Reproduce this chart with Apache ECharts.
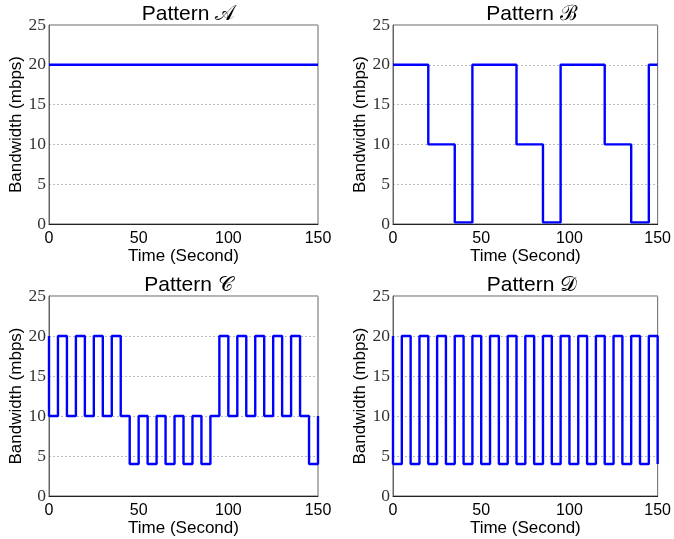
<!DOCTYPE html>
<html>
<head>
<meta charset="utf-8">
<script src="https://cdn.jsdelivr.net/npm/echarts@6/dist/echarts.min.js"></script>
<style>
  html, body { margin: 0; padding: 0; background: #fff; }
  #chart { width: 674px; height: 539px; }
</style>
</head>
<body>
<div id="chart"></div>
<script>
// Bandwidth traces (mbps) for four link patterns, given as change points:
// each value holds from its time until the next time (step "end").
const timeA = [0, 150];
const bwA   = [20, 20];

const timeB = [0, 20, 35, 45, 70, 85, 95, 120, 135, 145, 150];
const bwB   = [20, 10, 0.2, 20, 10, 0.2, 20, 10, 0.2, 20, 20];

const timeC = [0, 0, 5, 10, 15, 20, 25, 30, 35, 40, 45, 50, 55, 60, 65, 70, 75,
               80, 85, 90, 95, 100, 105, 110, 115, 120, 125, 130, 135, 140, 145, 150];
const bwC   = [20, 10, 20, 10, 20, 10, 20, 10, 20, 10, 4, 10, 4, 10, 4, 10, 4,
               10, 4, 10, 20, 10, 20, 10, 20, 10, 20, 10, 20, 10, 4, 10];

const timeD = [0, 0, 5, 10, 15, 20, 25, 30, 35, 40, 45, 50, 55, 60, 65, 70, 75,
               80, 85, 90, 95, 100, 105, 110, 115, 120, 125, 130, 135, 140, 145, 150];
const bwD   = [20, 4, 20, 4, 20, 4, 20, 4, 20, 4, 20, 4, 20, 4, 20, 4, 20,
               4, 20, 4, 20, 4, 20, 4, 20, 4, 20, 4, 20, 4, 20, 4];

const panelTitles = ['Pattern \u{1D49C}', 'Pattern \u212C', 'Pattern \u{1D49E}', 'Pattern \u{1D49F}'];
const xTicks = { min: 0, max: 150, interval: 50 };
const yTicks = { min: 0, max: 25, interval: 5 };
const xName = 'Time (Second)';
const yName = 'Bandwidth (mbps)';

const traces = [[timeA, bwA], [timeB, bwB], [timeC, bwC], [timeD, bwD]];

const grids = [
  { left: 49,  top: 25,  width: 269, height: 199 },
  { left: 393, top: 25,  width: 268, height: 199 },
  { left: 49,  top: 296, width: 269, height: 200 },
  { left: 393, top: 296, width: 268, height: 200 }
];

const sans = 'Liberation Sans, Arial, sans-serif';
const serif = 'Liberation Serif, Times New Roman, serif';

const option = {
  backgroundColor: '#fff',
  animation: false,
  title: grids.map((g, i) => ({
    text: panelTitles[i],
    left: g.left + g.width / 2,
    top: g.top - 26,
    textAlign: 'center',
    textStyle: { fontFamily: sans, fontSize: 21, fontWeight: 'normal', color: '#000' }
  })),
  grid: grids.map(g => Object.assign({ show: true, borderColor: '#666', borderWidth: 1, containLabel: false }, g)),
  xAxis: grids.map((g, i) => ({
    type: 'value', gridIndex: i,
    min: xTicks.min, max: xTicks.max, interval: xTicks.interval,
    name: xName, nameLocation: 'middle', nameGap: 19,
    nameTextStyle: { fontFamily: sans, fontSize: 17, color: '#000' },
    axisLine: { show: true, lineStyle: { color: '#222', width: 1 } },
    axisTick: { show: false },
    splitLine: { show: false },
    axisLabel: { fontFamily: sans, fontSize: 16, color: '#000', margin: 7 }
  })),
  yAxis: grids.map((g, i) => ({
    type: 'value', gridIndex: i,
    min: yTicks.min, max: yTicks.max, interval: yTicks.interval,
    name: yName, nameLocation: 'middle', nameGap: 22,
    nameTextStyle: { fontFamily: sans, fontSize: 17, color: '#000' },
    axisLine: { show: true, lineStyle: { color: '#666', width: 1 } },
    axisTick: { show: false },
    splitLine: { show: true, lineStyle: { color: '#bbb', width: 1, type: [2, 2] } },
    axisLabel: { fontFamily: serif, fontSize: 17.5, color: '#333', margin: 3 }
  })),
  series: traces.map(([t, v], i) => ({
    type: 'line', xAxisIndex: i, yAxisIndex: i,
    step: 'end',
    showSymbol: false,
    data: t.map((x, k) => [x, v[k]]),
    lineStyle: { color: '#0000ff', width: 2.4 },
    itemStyle: { color: '#0000ff' }
  }))
};

const chart = echarts.init(document.getElementById('chart'), null, { renderer: 'canvas' });
chart.setOption(option);
</script>
</body>
</html>
